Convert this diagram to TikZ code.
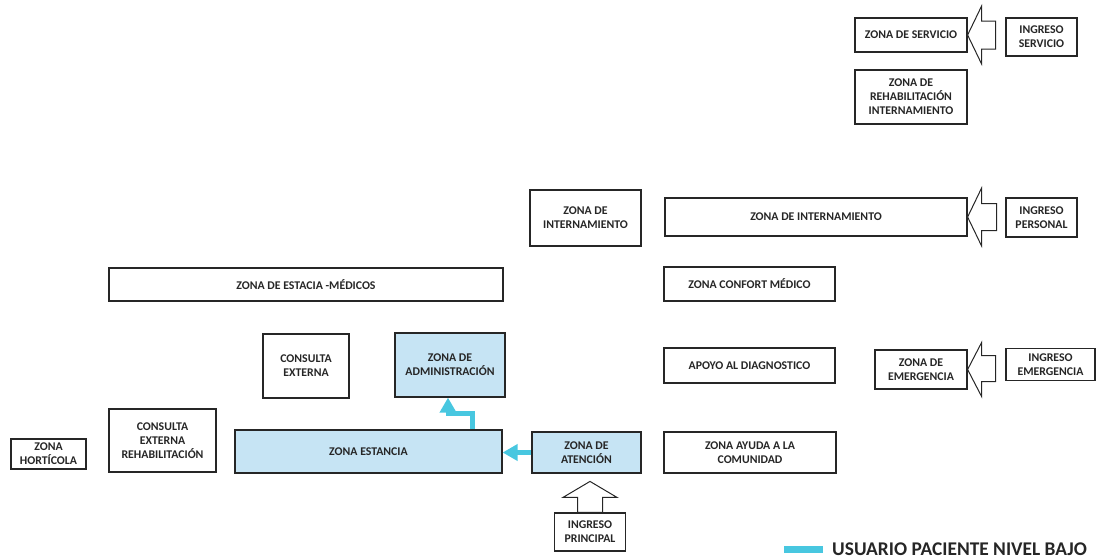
\documentclass[tikz,border=0pt]{standalone}
\usepackage{fontspec}
\setmainfont{Carlito}
\usetikzlibrary{arrows.meta}

\definecolor{zonaazul}{RGB}{198,228,244}
\definecolor{flujo}{RGB}{72,199,224}

\tikzset{
  zona/.style={draw=black!85, line width=1.2pt, align=center, inner sep=2pt,
    font=\fontsize{11.8}{14}\selectfont\bfseries, text=black!85},
  zonaus/.style={zona, fill=zonaazul},
  entrada/.style={draw=black!85, line width=1pt, fill=white},
  recorrido/.style={color=flujo, line width=5pt, -{Triangle[length=15pt,width=16pt]}}
}

\begin{document}
\begin{tikzpicture}[x=1pt,y=-1pt]
\useasboundingbox (0,0) rectangle (1103,558);

% Top right: service entrance
\node[zona, minimum width=112, minimum height=34] (srv) at (911,35) {ZONA DE SERVICIO};
\node[zona, minimum width=71, minimum height=38] (ingsrv) at (1041.5,37) {INGRESO\\SERVICIO};
\node[zona, minimum width=112, minimum height=54] (rehab) at (911,97) {ZONA DE\\REHABILITACIÓN\\INTERNAMIENTO};

% Inpatient row
\node[zona, minimum width=111, minimum height=56] (intsm) at (585.5,218) {ZONA DE\\INTERNAMIENTO};
\node[zona, minimum width=302, minimum height=38] (intlg) at (816,217) {ZONA DE INTERNAMIENTO};
\node[zona, minimum width=71, minimum height=39] (ingper) at (1041.5,217.5) {INGRESO\\PERSONAL};

% Staff row
\node[zona, minimum width=394, minimum height=33] (medicos) at (306,284.5) {ZONA DE ESTACIA -MÉDICOS};
\node[zona, minimum width=171, minimum height=34] (confort) at (749.5,284) {ZONA CONFORT MÉDICO};

% Consult / admin row
\node[zona, minimum width=86, minimum height=64] (consext) at (306,366) {CONSULTA\\EXTERNA};
\node[zonaus, minimum width=110, minimum height=64] (admin) at (450,365) {ZONA DE\\ADMINISTRACIÓN};
\node[zona, minimum width=171, minimum height=35] (apoyo) at (749.5,365.5) {APOYO AL DIAGNOSTICO};
\node[zona, minimum width=92, minimum height=39] (emerg) at (921,369.5) {ZONA DE\\EMERGENCIA};
\node[zona, minimum width=89, minimum height=32] (ingemer) at (1050.5,364.5) {INGRESO\\EMERGENCIA};

% Bottom row
\node[zona, minimum width=75, minimum height=30] (horti) at (48.5,454) {ZONA\\HORTÍCOLA};
\node[zona, minimum width=107, minimum height=63] (consrehab) at (162.5,440.5) {CONSULTA\\EXTERNA\\REHABILITACIÓN};
\node[zonaus, minimum width=267, minimum height=43] (estancia) at (368.5,451.5) {ZONA ESTANCIA};
\node[zonaus, minimum width=109, minimum height=41] (atencion) at (586.5,452.5) {ZONA DE\\ATENCIÓN};
\node[zona, minimum width=172, minimum height=41] (ayuda) at (750,452.5) {ZONA AYUDA A LA\\COMUNIDAD};
\node[zona, minimum width=71, minimum height=38] (ingppal) at (590,532) {INGRESO\\PRINCIPAL};

% Hollow entrance arrows
\draw[entrada] (srv.east) -- ++(14,-29) -- ++(0,15) -- ++(14,0) -- ++(0,28) -- ++(-14,0) -- ++(0,15) -- cycle;
\draw[entrada] (intlg.east) -- ++(14,-29) -- ++(0,15.5) -- ++(15,0) -- ++(0,27) -- ++(-15,0) -- ++(0,15.5) -- cycle;
\draw[entrada] (emerg.east) -- ++(14,-27) -- ++(0,13) -- ++(14,0) -- ++(0,26) -- ++(-14,0) -- ++(0,15) -- cycle;
\draw[entrada] (ingppal.north) ++(-12.5,0) -- ++(0,-15) -- ++(-14.5,0) -- ++(27,-16) -- ++(27,16) -- ++(-14.5,0) -- ++(0,15) -- cycle;

% Patient route
\draw[recorrido] (atencion.west) -- (atencion.west -| estancia.east);
\draw[recorrido] ([xshift=104pt]estancia.north) -- ++(0,-16) -| ([xshift=-2pt]admin.south);

% Legend
\node[anchor=base west, inner sep=0pt, font=\fontsize{19.4}{22}\selectfont\bfseries, text=black!85] (leyenda) at (832,555) {USUARIO PACIENTE NIVEL BAJO};
\fill[flujo] (leyenda.base west) ++(-48,-9) rectangle ++(39,7);

\end{tikzpicture}
\end{document}
